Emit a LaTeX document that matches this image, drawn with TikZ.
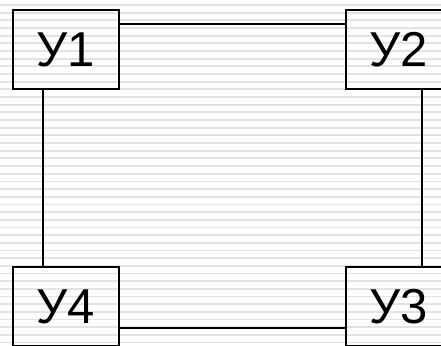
\documentclass[tikz,border=0pt]{standalone}
\usepackage{fontspec}
\setmainfont{Liberation Sans}

\begin{document}
\begin{tikzpicture}[x=1pt,y=1pt,
  unit/.style={draw,line width=2pt,minimum width=106pt,minimum height=79pt,inner sep=0pt,font=\fontsize{49}{49}\selectfont},
  link/.style={line width=2pt},
  stripe/.style={line width=1.8pt,black!11}]
\useasboundingbox (0,0) rectangle (441,345);
\clip (0,0) rectangle (441,345);
\fill[white] (0,0) rectangle (441,345);
\foreach \i in {0,...,44}{\draw[stripe] (0,{340-7.67*\i}) -- (441,{340-7.67*\i});}
\foreach \n/\x/\y in {1/66/295.5,2/399/295.5,3/399/38.5,4/66/38.5}{\node[unit] (u\n) at (\x,\y){У\n};}
\draw[link] ([yshift=25pt]u1.east) -- ([yshift=25pt]u2.west);
\draw[link] ([yshift=-21.5pt]u4.east) -- ([yshift=-21.5pt]u3.west);
\draw[link] ([xshift=-23pt]u1.south) -- ([xshift=-23pt]u4.north);
\draw[link] ([xshift=23pt]u2.south) -- ([xshift=23pt]u3.north);
\end{tikzpicture}
\end{document}
